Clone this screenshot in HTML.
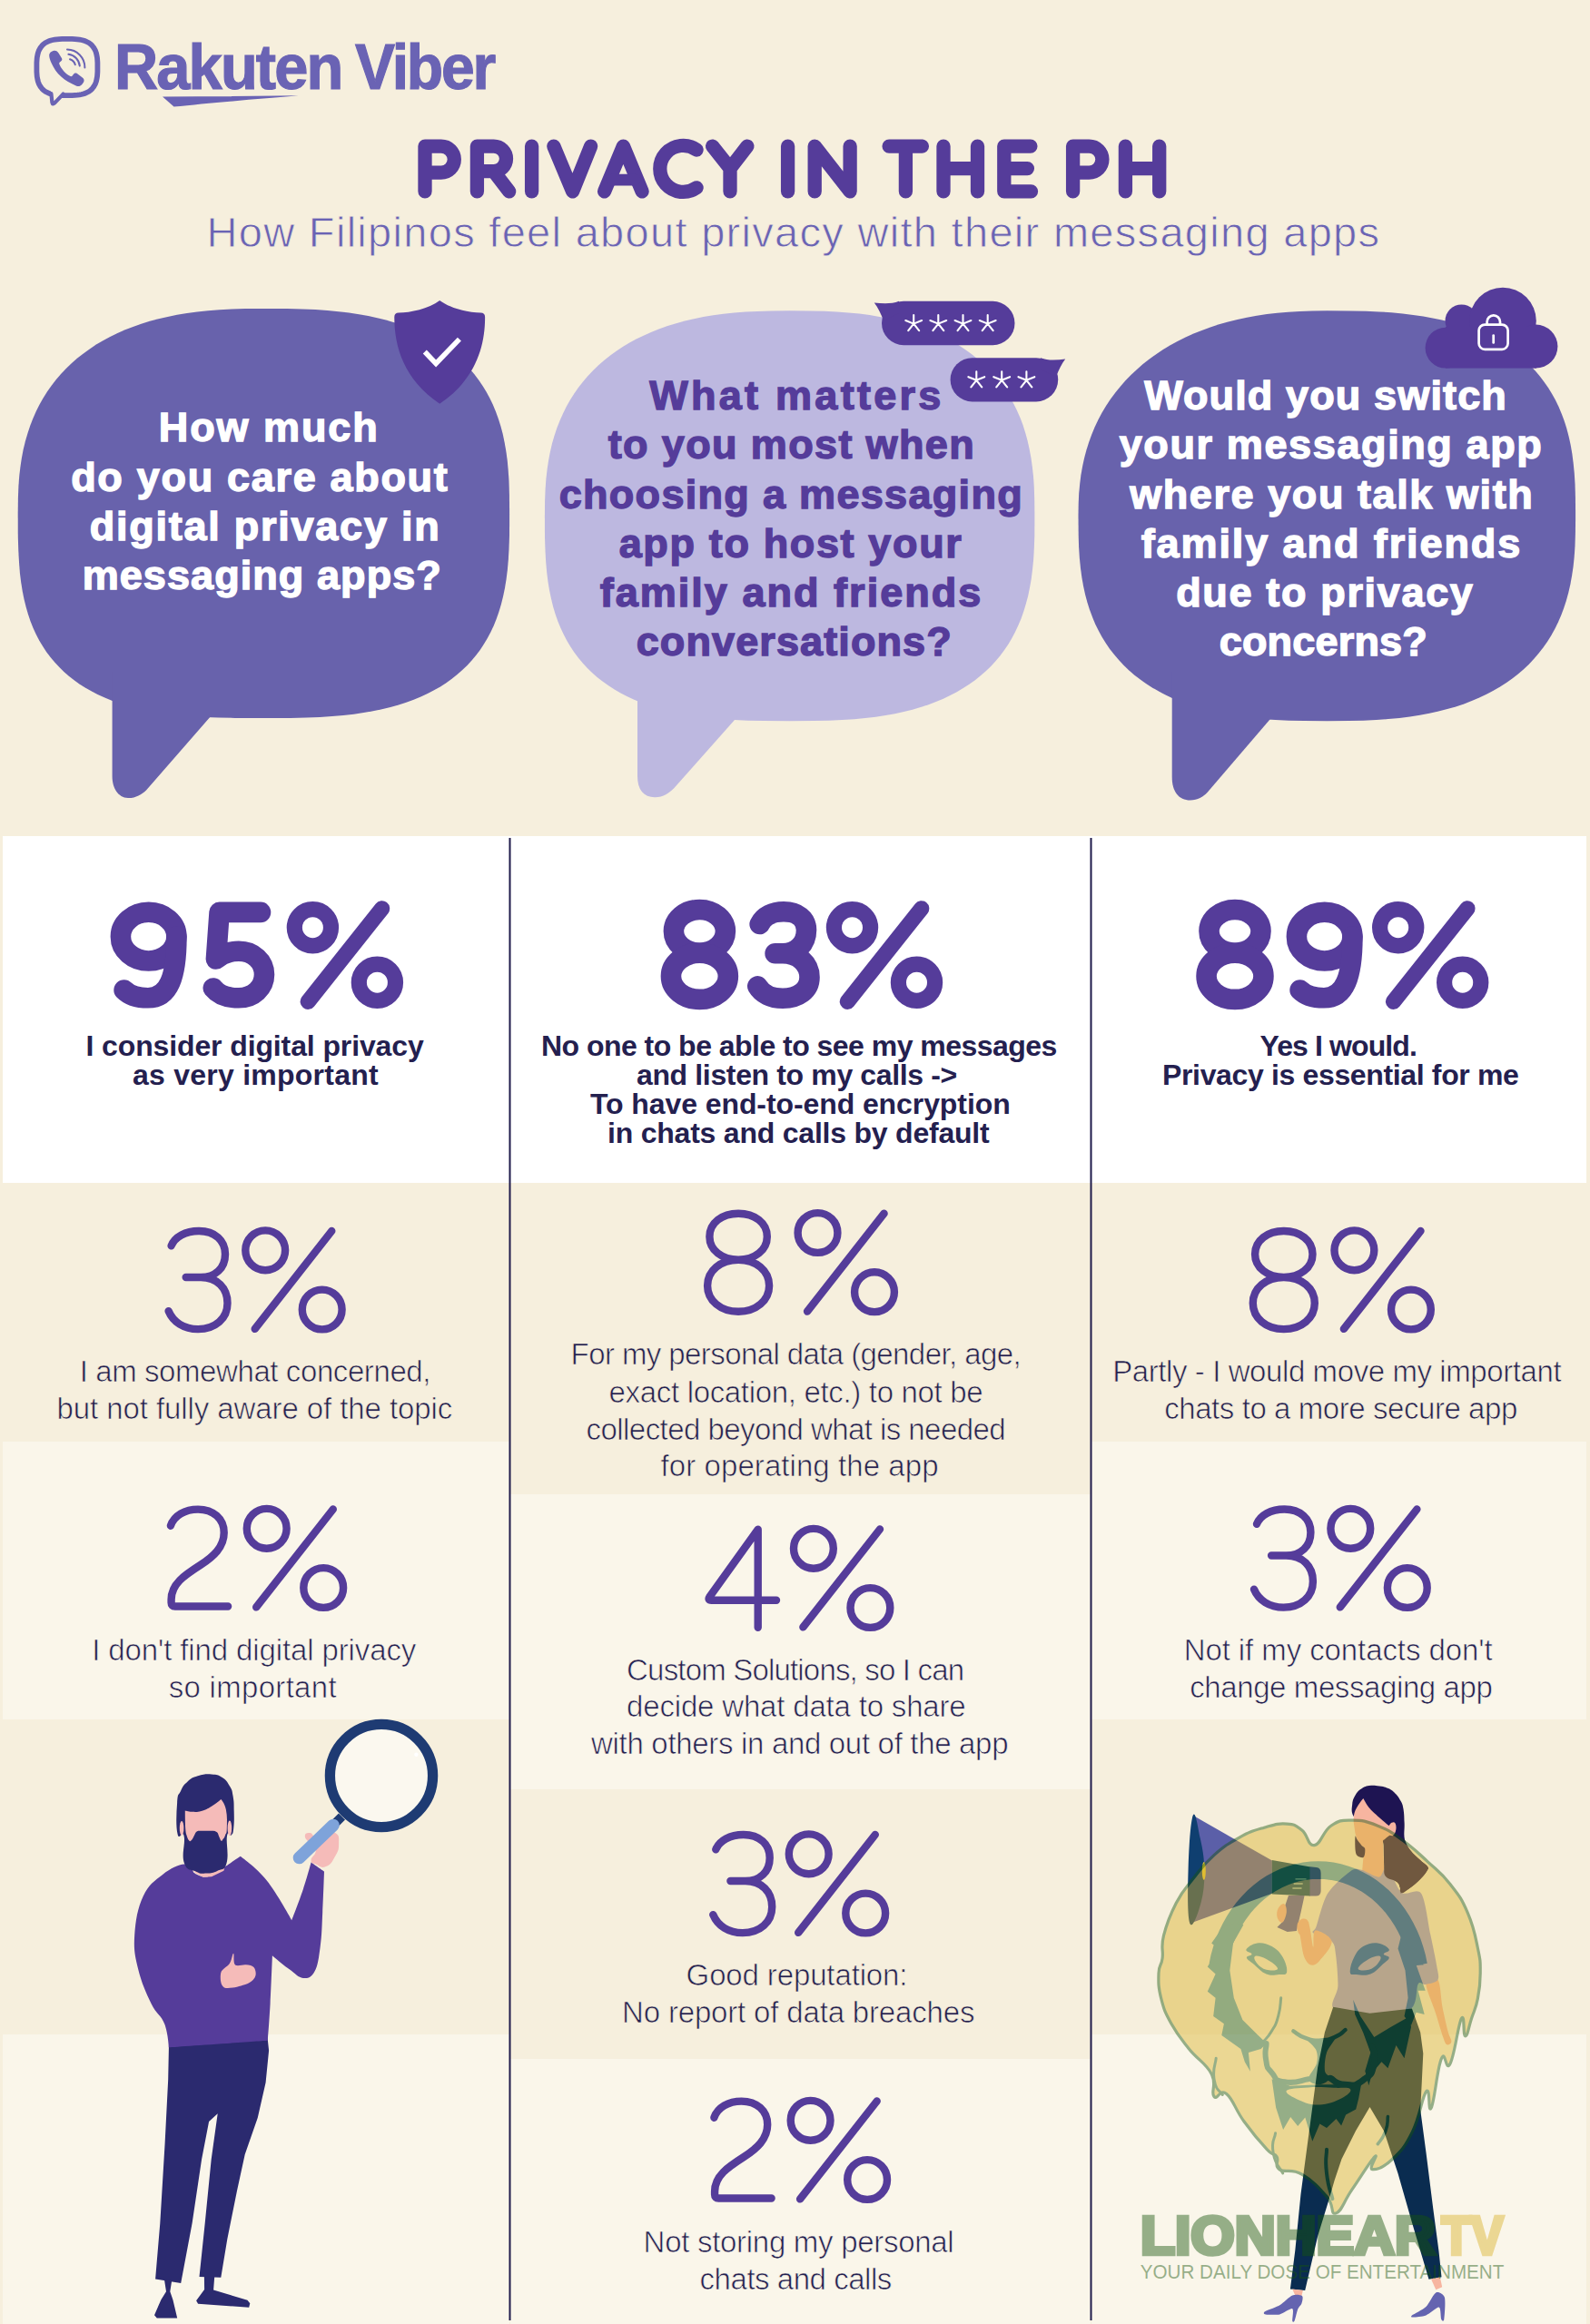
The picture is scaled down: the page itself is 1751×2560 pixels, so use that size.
<!DOCTYPE html>
<html lang="en"><head><meta charset="utf-8"><title>Privacy in the PH</title>
<style>
html,body{margin:0;padding:0}
body{width:1751px;height:2560px;position:relative;overflow:hidden;background:#f6efdd;font-family:"Liberation Sans",sans-serif}
svg.bg{position:absolute;left:0;top:0}
.t{position:absolute;white-space:nowrap;margin:0}
</style></head><body>
<svg class="bg" width="1751" height="2560" viewBox="0 0 1751 2560">
<rect x="3" y="921" width="1744" height="382" fill="#ffffff"/>
<rect x="3" y="1588" width="558" height="306" fill="#faf6ea"/>
<rect x="3" y="2241" width="558" height="319" fill="#faf6ea"/>
<rect x="562" y="1646" width="639" height="325" fill="#faf6ea"/>
<rect x="562" y="2268" width="639" height="292" fill="#faf6ea"/>
<rect x="1202" y="1588" width="545" height="306" fill="#faf6ea"/>
<rect x="1202" y="2241" width="545" height="319" fill="#faf6ea"/>
<rect x="560.5" y="923" width="2" height="1633" fill="#1f1b4b"/>
<rect x="1200.5" y="923" width="2" height="1633" fill="#1f1b4b"/>
<path d="M561.1,565.5 L561.0,589.7 L560.5,604.5 L559.8,617.0 L558.8,628.2 L557.5,638.6 L555.9,648.2 L554.0,657.2 L551.9,665.8 L549.4,674.0 L546.7,681.8 L543.7,689.2 L540.4,696.3 L536.8,703.1 L532.9,709.6 L528.7,715.9 L524.3,721.8 L519.5,727.5 L514.5,732.9 L509.2,738.1 L503.5,743.1 L497.6,747.7 L491.4,752.2 L484.9,756.4 L478.0,760.3 L470.9,764.0 L463.4,767.5 L455.6,770.8 L447.4,773.7 L438.9,776.5 L430.0,779.0 L420.6,781.3 L410.8,783.3 L400.5,785.1 L389.7,786.7 L378.1,788.0 L365.7,789.1 L352.2,789.9 L337.2,790.5 L319.4,790.9 L290.4,791.0 L259.1,790.9 L240.8,790.5 L225.4,790.0 L211.8,789.1 L199.3,788.1 L187.8,786.8 L176.9,785.3 L166.7,783.6 L157.0,781.6 L147.7,779.4 L138.9,777.0 L130.5,774.3 L122.5,771.4 L114.8,768.3 L107.5,764.9 L100.5,761.3 L93.8,757.4 L87.4,753.4 L81.3,749.0 L75.5,744.5 L70.1,739.7 L64.9,734.6 L60.0,729.3 L55.4,723.7 L51.0,717.9 L47.0,711.8 L43.2,705.4 L39.7,698.7 L36.5,691.7 L33.6,684.4 L31.0,676.7 L28.6,668.6 L26.5,660.0 L24.7,651.0 L23.2,641.4 L21.9,631.0 L21.0,619.6 L20.3,606.8 L19.8,591.5 L19.7,565.5 L19.9,548.6 L20.4,536.1 L21.2,524.8 L22.4,514.4 L23.9,504.5 L25.7,495.1 L27.9,486.1 L30.4,477.4 L33.2,469.0 L36.3,460.9 L39.8,453.1 L43.6,445.6 L47.7,438.3 L52.1,431.3 L56.9,424.6 L61.9,418.1 L67.3,411.8 L73.0,405.8 L79.0,400.1 L85.2,394.6 L91.8,389.4 L98.7,384.4 L105.9,379.6 L113.4,375.2 L121.2,371.0 L129.4,367.0 L137.8,363.3 L146.5,359.9 L155.5,356.7 L164.9,353.8 L174.6,351.2 L184.6,348.9 L195.0,346.8 L205.9,345.0 L217.2,343.5 L229.0,342.2 L241.6,341.3 L255.1,340.6 L270.1,340.1 L290.4,340.0 L316.1,340.1 L332.9,340.5 L347.4,341.1 L360.6,342.0 L372.9,343.2 L384.4,344.5 L395.3,346.2 L405.6,348.1 L415.5,350.2 L425.0,352.6 L434.1,355.3 L442.8,358.2 L451.2,361.3 L459.2,364.7 L466.9,368.3 L474.3,372.2 L481.4,376.3 L488.2,380.7 L494.6,385.4 L500.8,390.2 L506.6,395.4 L512.2,400.8 L517.5,406.4 L522.4,412.3 L527.1,418.4 L531.5,424.9 L535.5,431.5 L539.3,438.5 L542.8,445.8 L546.0,453.4 L548.8,461.3 L551.4,469.5 L553.7,478.1 L555.6,487.2 L557.3,496.8 L558.7,507.0 L559.7,518.0 L560.5,530.1 L560.9,544.1Z" fill="#6862ac"/>
<path d="M123.6 740 L123.6 855 C123.6 868 130 878.6 141 879 C149 879.3 156 875 161 870.4 L232.5 788.5 L232.5 740Z" fill="#6862ac"/>
<path d="M1139.4,568.2 L1139.3,590.3 L1138.8,604.5 L1138.1,616.7 L1137.0,627.7 L1135.7,638.0 L1134.0,647.6 L1132.1,656.7 L1129.8,665.3 L1127.3,673.6 L1124.5,681.5 L1121.3,689.0 L1117.9,696.3 L1114.2,703.2 L1110.2,709.9 L1105.9,716.3 L1101.3,722.4 L1096.4,728.3 L1091.2,733.9 L1085.7,739.2 L1079.9,744.3 L1073.8,749.2 L1067.4,753.8 L1060.7,758.1 L1053.7,762.2 L1046.4,766.1 L1038.8,769.7 L1030.8,773.1 L1022.5,776.2 L1013.8,779.1 L1004.8,781.7 L995.4,784.1 L985.5,786.2 L975.2,788.1 L964.4,789.7 L952.9,791.1 L940.7,792.2 L927.5,793.1 L912.9,793.7 L895.9,794.1 L869.7,794.2 L841.2,794.1 L823.6,793.7 L808.7,793.1 L795.3,792.3 L782.9,791.2 L771.4,789.8 L760.6,788.3 L750.3,786.5 L740.5,784.4 L731.2,782.1 L722.3,779.6 L713.8,776.8 L705.6,773.8 L697.8,770.5 L690.3,767.0 L683.1,763.3 L676.3,759.3 L669.8,755.1 L663.5,750.6 L657.6,745.9 L652.0,740.9 L646.6,735.7 L641.6,730.2 L636.8,724.5 L632.3,718.5 L628.2,712.2 L624.3,705.7 L620.7,698.8 L617.4,691.7 L614.3,684.2 L611.6,676.4 L609.1,668.2 L607.0,659.6 L605.1,650.5 L603.5,640.9 L602.2,630.6 L601.2,619.3 L600.5,606.8 L600.0,592.1 L599.9,568.3 L600.1,551.3 L600.6,538.8 L601.4,527.5 L602.6,517.0 L604.1,507.1 L605.9,497.7 L608.0,488.6 L610.5,479.9 L613.3,471.6 L616.5,463.5 L619.9,455.7 L623.7,448.1 L627.8,440.8 L632.2,433.8 L636.9,427.1 L642.0,420.5 L647.3,414.3 L653.0,408.3 L658.9,402.5 L665.2,397.0 L671.8,391.8 L678.7,386.8 L685.8,382.0 L693.3,377.5 L701.1,373.3 L709.2,369.4 L717.5,365.7 L726.2,362.2 L735.2,359.1 L744.6,356.2 L754.2,353.5 L764.2,351.2 L774.6,349.1 L785.4,347.3 L796.7,345.8 L808.5,344.5 L821.0,343.6 L834.4,342.9 L849.4,342.4 L869.6,342.3 L892.0,342.4 L907.7,342.8 L921.6,343.5 L934.4,344.4 L946.4,345.6 L957.7,347.1 L968.6,348.9 L979.0,350.9 L988.9,353.1 L998.5,355.7 L1007.7,358.4 L1016.6,361.5 L1025.1,364.8 L1033.4,368.4 L1041.3,372.2 L1048.9,376.3 L1056.2,380.6 L1063.2,385.2 L1069.9,390.1 L1076.3,395.2 L1082.4,400.5 L1088.2,406.1 L1093.6,412.0 L1098.8,418.1 L1103.7,424.5 L1108.3,431.1 L1112.5,438.0 L1116.5,445.2 L1120.1,452.6 L1123.5,460.3 L1126.5,468.3 L1129.2,476.7 L1131.6,485.4 L1133.6,494.5 L1135.4,504.0 L1136.8,514.0 L1138.0,524.7 L1138.8,536.4 L1139.2,549.5Z" fill="#bdb8e0"/>
<path d="M702 740 L702 855 C702 870 709 878 721 878.3 C730 878.5 737 873.5 742 868.5 L813 788.5 L813 740Z" fill="#bdb8e0"/>
<path d="M1735.1,568.2 L1734.9,587.9 L1734.5,601.3 L1733.7,613.2 L1732.6,624.0 L1731.1,634.1 L1729.4,643.6 L1727.3,652.7 L1724.9,661.4 L1722.2,669.7 L1719.2,677.7 L1715.9,685.4 L1712.3,692.8 L1708.3,699.9 L1704.1,706.7 L1699.5,713.2 L1694.6,719.5 L1689.5,725.6 L1684.0,731.4 L1678.2,736.9 L1672.1,742.2 L1665.7,747.2 L1659.0,752.0 L1652.0,756.5 L1644.6,760.8 L1637.0,764.8 L1629.1,768.6 L1620.8,772.1 L1612.2,775.4 L1603.2,778.4 L1593.9,781.1 L1584.2,783.6 L1574.2,785.8 L1563.6,787.8 L1552.6,789.5 L1541.1,790.9 L1528.8,792.1 L1515.7,793.0 L1501.4,793.7 L1485.1,794.1 L1461.3,794.2 L1436.0,794.1 L1419.2,793.7 L1404.6,793.0 L1391.3,792.2 L1379.0,791.0 L1367.4,789.6 L1356.3,787.9 L1345.8,786.0 L1335.8,783.8 L1326.2,781.4 L1317.0,778.7 L1308.1,775.8 L1299.6,772.6 L1291.4,769.2 L1283.6,765.5 L1276.1,761.6 L1268.9,757.4 L1262.0,753.0 L1255.4,748.3 L1249.1,743.4 L1243.1,738.2 L1237.4,732.8 L1232.1,727.1 L1227.0,721.1 L1222.2,714.9 L1217.8,708.4 L1213.6,701.7 L1209.8,694.7 L1206.2,687.4 L1203.0,679.8 L1200.0,671.8 L1197.4,663.5 L1195.1,654.9 L1193.1,645.8 L1191.4,636.2 L1190.0,626.0 L1188.9,615.1 L1188.1,603.0 L1187.7,589.2 L1187.5,568.3 L1187.7,554.7 L1188.2,543.5 L1189.2,533.1 L1190.4,523.2 L1192.1,513.7 L1194.1,504.5 L1196.5,495.5 L1199.2,486.9 L1202.3,478.4 L1205.7,470.2 L1209.5,462.3 L1213.6,454.5 L1218.1,447.0 L1222.9,439.8 L1228.1,432.7 L1233.6,425.9 L1239.4,419.3 L1245.5,413.0 L1252.0,406.9 L1258.7,401.1 L1265.8,395.5 L1273.2,390.2 L1280.9,385.1 L1288.8,380.3 L1297.1,375.8 L1305.6,371.5 L1314.4,367.6 L1323.5,363.9 L1332.9,360.5 L1342.5,357.3 L1352.5,354.5 L1362.7,351.9 L1373.2,349.7 L1384.0,347.7 L1395.2,346.1 L1406.7,344.7 L1418.8,343.7 L1431.4,342.9 L1444.9,342.5 L1461.3,342.3 L1487.3,342.4 L1504.3,342.8 L1519.0,343.4 L1532.3,344.3 L1544.7,345.5 L1556.3,346.9 L1567.4,348.5 L1577.8,350.4 L1587.9,352.5 L1597.5,354.9 L1606.7,357.6 L1615.5,360.5 L1623.9,363.6 L1632.1,367.0 L1639.9,370.7 L1647.3,374.6 L1654.5,378.7 L1661.3,383.1 L1667.9,387.8 L1674.1,392.6 L1680.0,397.8 L1685.6,403.2 L1691.0,408.8 L1696.0,414.7 L1700.7,420.9 L1705.1,427.3 L1709.2,434.0 L1713.1,441.0 L1716.6,448.3 L1719.8,455.9 L1722.7,463.8 L1725.3,472.1 L1727.6,480.7 L1729.6,489.8 L1731.3,499.4 L1732.6,509.6 L1733.7,520.6 L1734.5,532.8 L1734.9,546.8Z" fill="#6862ac"/>
<path d="M1290.7 740 L1290.7 856 C1290.7 872 1298 881.5 1310.7 881.5 C1319 881.5 1325 877.5 1329.5 873 L1401.5 789 L1401.5 740Z" fill="#6862ac"/>
<g fill="none" stroke="#553c9a" stroke-width="8.4" stroke-linecap="round" stroke-linejoin="round"><path transform="translate(181.1 1351.9)" d="M7.5 20.4 C11.5 10.5 23 4.1 38 4.1 C55.5 4.1 66.9 14.5 66.9 29.5 C66.9 45 56 55.1 40 55.1 L23.6 55.1 M40 55.1 C58 55.1 69.4 67 69.4 83.5 C69.4 100.5 56 112.2 37 112.2 C21.5 112.2 9.5 104.5 4.5 92.3"/><g transform="translate(266.4 1351.9)"><circle cx="25.8" cy="25.4" r="21.9"/><circle cx="88.3" cy="90.6" r="21.9"/><path d="M98.9 4.1 L14.3 112"/></g></g>
<g fill="none" stroke="#553c9a" stroke-width="8.4" stroke-linecap="round" stroke-linejoin="round"><path transform="translate(183.8 1658.4)" d="M4.1 22.3 C8 11 20 4.2 34.3 4.2 C51 4.2 62.9 14.5 62.9 29.9 C62.9 46 51 56.5 37 65.5 C19 77 4.8 86.5 4.8 103.5 L4.8 107 Q4.8 111.1 9 111.1 L67.3 111.1"/><g transform="translate(267.9 1658.4)"><circle cx="25.8" cy="25.4" r="21.9"/><circle cx="88.3" cy="90.6" r="21.9"/><path d="M98.9 4.1 L14.3 112"/></g></g>
<g fill="none" stroke="#553c9a" stroke-width="8.4" stroke-linecap="round" stroke-linejoin="round"><path transform="translate(775.1 1332.6)" d="M38 4.1 C56 4.1 69.7 14.5 69.7 29.6 C69.7 44.5 56 55.1 38 55.1 C20 55.1 6.3 44.5 6.3 29.6 C6.3 14.5 20 4.1 38 4.1 Z M38 55.1 C57.5 55.1 72 67 72 83.6 C72 100 57.5 112.2 38 112.2 C18.5 112.2 4 100 4 83.6 C4 67 18.5 55.1 38 55.1 Z"/><g transform="translate(874.7 1332.6)"><circle cx="25.8" cy="25.4" r="21.9"/><circle cx="88.3" cy="90.6" r="21.9"/><path d="M98.9 4.1 L14.3 112"/></g></g>
<g fill="none" stroke="#553c9a" stroke-width="8.4" stroke-linecap="round" stroke-linejoin="round"><path transform="translate(775.8 1680.4)" d="M58.9 112.3 L58.9 4.3 L5.6 78.6 Q3.2 82.3 7.8 82.3 L79.2 82.3"/><g transform="translate(870.1 1680.4)"><circle cx="25.8" cy="25.4" r="21.9"/><circle cx="88.3" cy="90.6" r="21.9"/><path d="M98.9 4.1 L14.3 112"/></g></g>
<g fill="none" stroke="#553c9a" stroke-width="8.4" stroke-linecap="round" stroke-linejoin="round"><path transform="translate(780.8 2016.9)" d="M7.5 20.4 C11.5 10.5 23 4.1 38 4.1 C55.5 4.1 66.9 14.5 66.9 29.5 C66.9 45 56 55.1 40 55.1 L23.6 55.1 M40 55.1 C58 55.1 69.4 67 69.4 83.5 C69.4 100.5 56 112.2 37 112.2 C21.5 112.2 9.5 104.5 4.5 92.3"/><g transform="translate(864.9 2016.9)"><circle cx="25.8" cy="25.4" r="21.9"/><circle cx="88.3" cy="90.6" r="21.9"/><path d="M98.9 4.1 L14.3 112"/></g></g>
<g fill="none" stroke="#553c9a" stroke-width="8.4" stroke-linecap="round" stroke-linejoin="round"><path transform="translate(782.3 2310.4)" d="M4.1 22.3 C8 11 20 4.2 34.3 4.2 C51 4.2 62.9 14.5 62.9 29.9 C62.9 46 51 56.5 37 65.5 C19 77 4.8 86.5 4.8 103.5 L4.8 107 Q4.8 111.1 9 111.1 L67.3 111.1"/><g transform="translate(866.8 2310.4)"><circle cx="25.8" cy="25.4" r="21.9"/><circle cx="88.3" cy="90.6" r="21.9"/><path d="M98.9 4.1 L14.3 112"/></g></g>
<g fill="none" stroke="#553c9a" stroke-width="8.4" stroke-linecap="round" stroke-linejoin="round"><path transform="translate(1375.8 1351.9)" d="M38 4.1 C56 4.1 69.7 14.5 69.7 29.6 C69.7 44.5 56 55.1 38 55.1 C20 55.1 6.3 44.5 6.3 29.6 C6.3 14.5 20 4.1 38 4.1 Z M38 55.1 C57.5 55.1 72 67 72 83.6 C72 100 57.5 112.2 38 112.2 C18.5 112.2 4 100 4 83.6 C4 67 18.5 55.1 38 55.1 Z"/><g transform="translate(1465.6 1351.9)"><circle cx="25.8" cy="25.4" r="21.9"/><circle cx="88.3" cy="90.6" r="21.9"/><path d="M98.9 4.1 L14.3 112"/></g></g>
<g fill="none" stroke="#553c9a" stroke-width="8.4" stroke-linecap="round" stroke-linejoin="round"><path transform="translate(1376.5 1658.4)" d="M7.5 20.4 C11.5 10.5 23 4.1 38 4.1 C55.5 4.1 66.9 14.5 66.9 29.5 C66.9 45 56 55.1 40 55.1 L23.6 55.1 M40 55.1 C58 55.1 69.4 67 69.4 83.5 C69.4 100.5 56 112.2 37 112.2 C21.5 112.2 9.5 104.5 4.5 92.3"/><g transform="translate(1461.5 1658.4)"><circle cx="25.8" cy="25.4" r="21.9"/><circle cx="88.3" cy="90.6" r="21.9"/><path d="M98.9 4.1 L14.3 112"/></g></g>
<g fill="none" stroke="#6a63b4" stroke-width="5.8" stroke-linejoin="round" stroke-linecap="round"><path d="M107.4,74.0 L107.4,79.0 L107.2,82.0 L107.0,84.5 L106.6,86.6 L106.2,88.6 L105.7,90.4 L105.1,92.1 L104.3,93.6 L103.5,95.0 L102.6,96.3 L101.6,97.6 L100.5,98.7 L99.3,99.7 L98.0,100.7 L96.5,101.5 L95.0,102.3 L93.3,102.9 L91.6,103.5 L89.6,104.0 L87.5,104.4 L85.2,104.7 L82.5,104.9 L79.3,105.1 L73.9,105.1 L68.5,105.1 L65.3,104.9 L62.6,104.7 L60.3,104.4 L58.2,104.0 L56.2,103.5 L54.5,102.9 L52.8,102.3 L51.3,101.5 L49.8,100.7 L48.5,99.7 L47.3,98.7 L46.2,97.6 L45.2,96.3 L44.3,95.0 L43.5,93.6 L42.7,92.1 L42.1,90.4 L41.6,88.6 L41.2,86.6 L40.8,84.5 L40.6,82.0 L40.4,79.0 L40.4,74.0 L40.4,69.0 L40.6,66.0 L40.8,63.5 L41.2,61.4 L41.6,59.4 L42.1,57.6 L42.7,55.9 L43.5,54.4 L44.3,53.0 L45.2,51.7 L46.2,50.4 L47.3,49.3 L48.5,48.3 L49.8,47.3 L51.3,46.5 L52.8,45.7 L54.5,45.1 L56.2,44.5 L58.2,44.0 L60.3,43.6 L62.6,43.3 L65.3,43.1 L68.5,42.9 L73.9,42.9 L79.3,42.9 L82.5,43.1 L85.2,43.3 L87.5,43.6 L89.6,44.0 L91.6,44.5 L93.3,45.1 L95.0,45.7 L96.5,46.5 L98.0,47.3 L99.3,48.3 L100.5,49.3 L101.6,50.4 L102.6,51.7 L103.5,53.0 L104.3,54.4 L105.1,55.9 L105.7,57.6 L106.2,59.4 L106.6,61.4 L107.0,63.5 L107.2,66.0 L107.4,69.0Z"/></g>
<path d="M56.6 100 L57.6 113.6 L68.5 102.5Z" fill="#f6efdd" stroke="#f6efdd" stroke-width="1"/>
<path d="M56.4 103.2 L57.4 113 Q58 115.6 60 113.6 L69.5 103.6" fill="none" stroke="#6a63b4" stroke-width="4.2" stroke-linejoin="round" stroke-linecap="round"/>
<path d="M59.6 55.8 C62 55.6 63.5 56.8 64.5 58.5 L67.9 64 C68.8 65.6 68.3 66.6 67.1 67.6 C65.6 68.8 64.9 69.4 65.3 70.6 C66.5 73.8 68.2 76.2 70.3 78.4 C72.5 80.8 75 82.8 77.6 84 C78.8 84.5 79.6 83.6 80.6 82.2 C81.6 80.6 82.8 80 84.6 80.7 L90.8 85.6 C92.6 87 93 88.6 92.2 90.2 C91.2 92 90 93.6 88.4 94.4 C86.8 95.2 85.4 95 83.8 94.4 C77.4 92 72 88.6 67.4 84.6 C62.6 80.2 59 75 56.4 69 C55 65.8 54.2 63.2 54.2 61 C54.2 58.6 56.6 56.2 59.6 55.8Z" fill="#6a63b4"/>
<g fill="none" stroke="#6a63b4" stroke-width="2" stroke-linecap="round"><path d="M74 54.6 A19.6 19.6 0 0 1 93.4 74.4"/><path d="M75.4 59.8 A14.4 14.4 0 0 1 87.8 72.6"/><path d="M77 65.2 A9 9 0 0 1 82.8 71.2"/></g>
<path d="M179 106.6 L328.5 105.3 C290 108.5 230 113.5 191.5 117.6Z" fill="#6a63b4"/>
<path d="M484.2 331 C472 340 452 344.5 439 344.5 Q434.4 344.5 434.3 349 C434 380 444 418 484.2 444.7 C524.5 418 534.4 380 534.1 349 Q534 344.5 529.4 344.5 C516.5 344.5 496.5 340 484.2 331Z" fill="#553c9a"/>
<path d="M467.8 387.5 L480.1 400.5 L505.9 373.6" fill="none" stroke="#fff" stroke-width="5.6"/>
<rect x="971" y="331.8" width="146.5" height="48.4" rx="24.2" fill="#553c9a"/>
<path d="M990 331.8 C982 335 972 334.5 962.8 333.4 C967 339 970 345 973 353 L990 345Z" fill="#553c9a"/>
<rect x="1046.6" y="394.2" width="118.6" height="48.2" rx="24.1" fill="#553c9a"/>
<path d="M1146 394.2 C1154 397.5 1164 396.8 1173.2 395.4 C1169 401 1166 407 1163 415 L1146 407Z" fill="#553c9a"/>
<path d="M1006.2 356.6 L1006.2 347.0 M1006.2 356.6 L1015.1 353.0 M1006.2 356.6 L997.3 353.0 M1006.2 356.6 L1000.3 364.2 M1006.2 356.6 L1012.1 364.2 M1033.3 356.6 L1033.3 347.0 M1033.3 356.6 L1042.2 353.0 M1033.3 356.6 L1024.4 353.0 M1033.3 356.6 L1027.4 364.2 M1033.3 356.6 L1039.2 364.2 M1060.5 356.6 L1060.5 347.0 M1060.5 356.6 L1069.4 353.0 M1060.5 356.6 L1051.6 353.0 M1060.5 356.6 L1054.6 364.2 M1060.5 356.6 L1066.4 364.2 M1087.7 356.6 L1087.7 347.0 M1087.7 356.6 L1096.6 353.0 M1087.7 356.6 L1078.8 353.0 M1087.7 356.6 L1081.8 364.2 M1087.7 356.6 L1093.6 364.2 M1075.3 418.8 L1075.3 409.2 M1075.3 418.8 L1084.2 415.2 M1075.3 418.8 L1066.4 415.2 M1075.3 418.8 L1069.4 426.4 M1075.3 418.8 L1081.2 426.4 M1103.2 418.8 L1103.2 409.2 M1103.2 418.8 L1112.1 415.2 M1103.2 418.8 L1094.3 415.2 M1103.2 418.8 L1097.3 426.4 M1103.2 418.8 L1109.1 426.4 M1130.4 418.8 L1130.4 409.2 M1130.4 418.8 L1139.3 415.2 M1130.4 418.8 L1121.5 415.2 M1130.4 418.8 L1124.5 426.4 M1130.4 418.8 L1136.3 426.4" fill="none" stroke="#fff" stroke-width="2.1" stroke-linecap="round"/>
<g fill="#553c9a"><circle cx="1592" cy="383.2" r="22.4"/><circle cx="1609.5" cy="353.5" r="18"/><circle cx="1655" cy="353.6" r="36.8"/><circle cx="1691.4" cy="381.6" r="24"/><rect x="1592" y="360" width="100" height="45.6"/></g>
<g fill="none" stroke="#fff" stroke-width="2.7" stroke-linecap="round"><rect x="1628.6" y="357.6" width="32" height="27.2" rx="6.5"/><path d="M1637.6 357.6 L1637.6 354.6 A7.2 7.2 0 0 1 1652 354.6 L1652 357.6"/><path d="M1644.7 369.6 L1644.7 377.4"/></g>
<g fill="none" stroke="#553c9a" stroke-width="22.6" stroke-linecap="round" stroke-linejoin="round"><ellipse cx="163.65" cy="1031.65" rx="30.75" ry="26.85"/><path d="M194.4 1031.65 C194.4 1076 186 1099.3 163 1099.3 C151 1099.3 142 1096 136.6 1090.5"/><path d="M287 1004.9 L241.6 1004.9 L237.9 1056.5 C244 1051 252 1047.8 262.9 1047.8 C279 1047.8 291 1059 291 1073.5 C291 1088 279 1099.3 262.9 1099.3 C250 1099.3 240 1095 234.8 1088.5"/><g stroke-width="17.2"><circle cx="344.4" cy="1021.7" r="20.1"/><circle cx="415.4" cy="1082.2" r="20.1"/><path d="M420.6 1000.8 L339.2 1103.3"/></g><ellipse cx="770.4" cy="1025.85" rx="28.5" ry="23.85"/><ellipse cx="770.4" cy="1075.3" rx="31.45" ry="25.6"/><path d="M836.7 1018 C841 1009 851 1004.3 863 1004.3 C878 1004.3 888 1012 888 1024.5 C888 1040 877 1050.3 862 1050.3 L853.6 1050.3 M862 1050.3 C879 1050.3 891.5 1061.5 891.5 1076.5 C891.5 1091 879 1099.8 862 1099.8 C849 1099.8 839 1094.5 834.3 1086.4"/><g stroke-width="17.2"><circle cx="938.5" cy="1021.7" r="20.1"/><circle cx="1009.5" cy="1082.2" r="20.1"/><path d="M1014.7 1000.8 L933.3 1103.3"/></g><g transform="translate(589.6 0)"><ellipse cx="770.4" cy="1025.85" rx="28.5" ry="23.85"/><ellipse cx="770.4" cy="1075.3" rx="31.45" ry="25.6"/></g><g transform="translate(1295 0)"><ellipse cx="163.65" cy="1031.65" rx="30.75" ry="26.85"/><path d="M194.4 1031.65 C194.4 1076 186 1099.3 163 1099.3 C151 1099.3 142 1096 136.6 1090.5"/></g><g stroke-width="17.2"><circle cx="1539.7" cy="1021.7" r="20.1"/><circle cx="1610.7" cy="1082.2" r="20.1"/><path d="M1615.9 1000.8 L1534.5 1103.3"/></g></g>
<g fill="none" stroke="#553c9a" stroke-width="15.3" stroke-linecap="round" stroke-linejoin="round"><path d="M468 210.85 L468 161.05 L485.8 161.05 A14.5 14.5 0 0 1 485.8 190.05 L468 190.05"/><path d="M525.4 210.85 L525.4 161.05 L543.7 161.05 A13.8 13.8 0 0 1 543.7 188.65 L525.4 188.65 M543.6 188.65 L560.7 210.85"/><path d="M585.6 161.05 L585.6 210.85"/><path d="M609.8 161.05 L630.6 210.85 L650.6 161.05"/><path d="M665.6 210.85 L686.4 161.05 L707.1 210.85"/><path d="M767.05 165 A25.55 25.55 0 1 0 767.05 206.8"/><path d="M784.6 161.05 L804 185.6 L822.9 161.05 M804 185.6 L804 210.85"/><path d="M867.6 161.05 L867.6 210.85"/><path d="M897.2 210.85 L897.2 161.05 L936.1 210.85 L936.1 161.05"/><path d="M979.1 161.05 L1015.4 161.05 M997.4 161.05 L997.4 210.85"/><path d="M1039 161.05 L1039 210.85 M1076.5 161.05 L1076.5 210.85 M1039 185.6 L1076.5 185.6"/><path d="M1134.9 161.05 L1105.8 161.05 L1105.8 210.85 L1135.5 210.85 M1105.8 185.6 L1131.4 185.6"/><path d="M1181.6 210.85 L1181.6 161.05 L1199.4 161.05 A14.5 14.5 0 0 1 1199.4 190.05 L1181.6 190.05"/><path d="M1239.4 161.05 L1239.4 210.85 M1276.7 161.05 L1276.7 210.85 M1239.4 185.6 L1276.7 185.6"/><path d="M674 198.1 L699 198.1" stroke-width="12.6"/></g>
<circle cx="420" cy="1956" r="56.6" fill="#fbf8ef" stroke="#1e3b73" stroke-width="11.3"/>
<circle cx="458.4" cy="1932.8" r="2.2" fill="#ffffff"/>
<path d="M335.8 2022.4 C335.8 2019.2 338.2 2018.7 341.4 2019.1 C344.5 2019.5 344.3 2023.4 347.7 2023.9 C351.0 2024.4 348.3 2022.2 354.0 2020.9 C359.7 2019.5 364.0 2016.2 369.1 2018.9 C374.2 2021.6 373.1 2024.0 373.1 2030.9 C373.1 2037.9 372.8 2038.1 369.1 2044.8 C365.3 2051.5 364.7 2053.8 359.0 2056.1 C353.3 2058.4 352.0 2055.5 347.7 2053.6 C343.3 2051.7 342.6 2053.1 342.6 2049.1 C342.6 2045.0 348.0 2043.3 347.7 2038.5 C347.3 2033.7 344.5 2035.2 341.4 2030.9 C338.2 2026.6 335.8 2025.5 335.8 2022.4Z" fill="#f5bbb9" />
<path d="M376.5 2001 L364 2013.5" stroke="#1e3b73" stroke-width="10" stroke-linecap="butt" fill="none"/>
<path d="M367 2010.5 L329.5 2046.5" stroke="#7ea3da" stroke-width="13.6" stroke-linecap="round" fill="none"/>
<path d="M186.0 2251.7 L294.3 2242.0 L296.1 2258.7 L292.6 2294.0 L283.8 2332.7 L269.7 2373.2 L260.9 2413.7 L250.3 2466.5 L243.3 2508.8 L219.5 2507.9 L225.7 2448.9 L232.7 2378.5 L239.7 2328.3 L230.1 2337.1 L222.1 2378.5 L211.6 2448.9 L199.2 2514.9 L171.1 2510.5 L176.3 2448.9 L181.6 2360.9 L185.2 2290.4Z" fill="#2b2a6f" />
<path d="M180.8 2510.0 L189.2 2512.3 L187.3 2524.2 L190.4 2533.2 L195.2 2553.6 L172.8 2553.4 L170.0 2550.2 L177.4 2533.2 L183.0 2524.2Z" fill="#2b2a6f" />
<path d="M224.9 2508.1 L236.2 2508.1 L235.1 2522.5 L272.5 2533.8 L275.3 2537.2 L274.2 2541.7 L218.1 2537.7 L216.1 2534.3 L225.1 2521.9Z" fill="#2b2a6f" />
<path d="M203.0 2053.6 C196.2 2054.1 188.2 2057.9 179.1 2064.9 C170.1 2071.9 163.9 2075.5 157.7 2088.8 C151.5 2102.1 149.3 2115.5 148.2 2131.6 C147.1 2147.7 148.5 2154.2 152.2 2169.3 C155.9 2184.4 160.8 2195.1 166.5 2207.0 C172.3 2219.0 177.3 2219.5 181.1 2229.2 C185.0 2238.8 185.9 2255.3 185.9 2255.3 C185.9 2255.3 294.8 2247.8 294.8 2247.8 C294.8 2247.8 296.6 2225.8 297.6 2207.0 C298.6 2188.3 299.9 2154.2 299.9 2154.2 C299.9 2154.2 311.9 2164.4 318.7 2169.3 C325.5 2174.2 328.3 2178.4 333.8 2178.9 C339.4 2179.4 342.6 2178.8 346.4 2171.8 C350.2 2164.9 350.9 2157.2 352.7 2144.2 C354.5 2131.1 354.4 2122.9 355.2 2106.4 C356.1 2089.9 357.0 2061.6 357.0 2061.6 C357.0 2061.6 342.6 2051.6 342.6 2051.6 C342.6 2051.6 338.1 2068.5 333.8 2081.3 C329.6 2094.0 321.3 2115.2 321.3 2115.2 C321.3 2115.2 304.9 2085.3 293.6 2071.2 C282.3 2057.1 264.7 2044.8 264.7 2044.8 C264.7 2044.8 248.3 2056.1 248.3 2056.1 C248.3 2056.1 235.2 2066.2 228.2 2067.4 C221.1 2068.7 213.1 2062.4 213.1 2062.4 C213.1 2062.4 209.8 2053.1 203.0 2053.6Z" fill="#553c9a" />
<path d="M210.4 2058.7 L216.0 2063.4 L223.6 2067.7 L233.0 2067.2 L246.4 2060.8 L247.4 2057.3 L234.9 2055.8 L216.0 2055.8Z" fill="#f5bbb9" />
<path d="M195.5 2020.0 C193.6 2010.9 194.2 1997.8 195.1 1986.0 C196.0 1974.2 196.2 1978.7 199.1 1972.8 C201.9 1966.9 201.9 1966.6 206.6 1962.5 C211.3 1958.3 211.3 1958.3 217.9 1956.3 C224.5 1954.3 226.4 1954.1 233.0 1954.4 C239.6 1954.8 239.4 1954.6 244.3 1957.7 C249.3 1960.9 249.8 1962.0 252.8 1967.2 C255.9 1972.4 255.4 1971.4 256.6 1978.5 C257.8 1985.6 257.6 1986.5 257.7 1995.5 C257.9 2004.4 257.9 2007.9 257.2 2014.3 C256.4 2020.8 256.5 2019.4 254.7 2021.4 C252.9 2023.4 251.3 2014.7 250.0 2022.4 C248.7 2030.0 252.2 2042.5 249.6 2052.1 C247.0 2061.7 245.2 2057.9 239.6 2060.8 C234.1 2063.6 233.3 2063.3 227.4 2063.6 C221.5 2063.8 222.2 2064.6 216.0 2061.7 C209.9 2058.8 206.2 2061.9 202.8 2052.1 C199.5 2042.2 204.5 2030.4 202.6 2022.4 C200.8 2014.3 197.4 2029.1 195.5 2020.0Z" fill="#2b2a6f" />
<ellipse cx="200.1" cy="2013.9" rx="2.3" ry="8" fill="#f5bbb9"/>
<ellipse cx="252.9" cy="2013.9" rx="2.3" ry="8.4" fill="#f5bbb9"/>
<path d="M203.8 1994.5 C203.8 1994.5 207.1 1995.6 211.3 1995.8 C215.5 1995.9 216.6 1996.4 221.7 1995.0 C226.8 1993.6 228.0 1992.8 233.0 1989.8 C238.1 1986.8 243.4 1982.1 243.4 1982.1 C243.4 1982.1 247.4 1986.1 248.9 1993.6 C250.4 2001.1 250.0 2007.8 249.8 2014.3 C249.6 2020.8 249.1 2018.7 248.1 2021.4 C247.1 2024.2 246.5 2024.7 245.5 2026.1 C244.4 2027.6 244.6 2028.4 243.6 2027.7 C242.6 2027.1 242.4 2025.4 241.3 2023.3 C240.3 2021.2 240.6 2020.1 239.2 2018.6 C237.7 2017.0 234.9 2016.7 234.9 2016.7 C234.9 2016.7 218.9 2016.7 218.9 2016.7 C218.9 2016.7 217.4 2016.5 216.0 2018.1 C214.7 2019.8 214.3 2021.6 213.0 2023.8 C211.7 2026.0 211.5 2026.7 210.4 2027.5 C209.3 2028.4 209.4 2028.8 208.3 2027.5 C207.2 2026.3 206.8 2025.4 205.8 2022.4 C204.9 2019.3 204.7 2020.8 204.2 2014.3 C203.8 2007.8 203.8 1994.5 203.8 1994.5Z" fill="#f5bbb9" />
<path d="M257.1 2151.7 C256.1 2151.5 255.1 2159.5 252.8 2163.0 C250.5 2166.6 244.2 2168.7 243.3 2173.1 C242.3 2177.5 242.4 2187.3 247.0 2189.4 C251.7 2191.5 265.3 2187.7 270.9 2185.7 C276.6 2183.6 279.5 2180.4 281.0 2177.4 C282.5 2174.3 281.4 2169.5 279.7 2167.3 C278.1 2165.1 274.4 2164.8 270.9 2164.3 C267.5 2163.8 261.2 2166.4 258.9 2164.3 C256.6 2162.2 258.1 2151.9 257.1 2151.7Z" fill="#f5bbb9" />
<path d="M1570.3 2184.3 C1570.7 2178.2 1580.4 2176.1 1583.4 2180.5 C1586.5 2184.8 1586.6 2200.9 1588.4 2210.4 C1590.3 2219.9 1592.9 2231.1 1594.5 2237.5 C1596.2 2244.0 1598.6 2246.4 1598.4 2248.9 C1598.2 2251.3 1594.9 2253.0 1593.4 2252.3 C1591.9 2251.5 1591.4 2250.2 1589.3 2244.3 C1587.2 2238.5 1584.1 2227.2 1580.9 2217.2 C1577.8 2207.2 1569.9 2190.5 1570.3 2184.3Z" fill="#f7b5a0" />
<path d="M1489.2 1987.5 C1489.8 1982.2 1490.4 1981.5 1492.6 1977.6 C1494.8 1973.8 1495.2 1973.3 1498.7 1970.8 C1502.2 1968.4 1503.0 1967.9 1507.7 1967.1 C1512.5 1966.3 1514.1 1966.7 1519.1 1967.5 C1524.0 1968.2 1524.8 1968.2 1528.9 1970.1 C1532.9 1971.9 1533.2 1972.2 1536.4 1975.4 C1539.6 1978.5 1540.3 1979.6 1542.5 1983.7 C1544.6 1987.7 1544.5 1987.1 1545.5 1992.7 C1546.4 1998.4 1546.3 1999.9 1546.6 2007.8 C1547.0 2015.8 1545.5 2019.7 1547.0 2026.7 C1548.5 2033.7 1549.0 2032.7 1553.0 2038.0 C1557.1 2043.3 1559.9 2045.1 1564.3 2049.3 C1568.8 2053.6 1570.4 2053.5 1572.0 2056.1 C1573.7 2058.8 1573.3 2057.5 1571.5 2060.7 C1569.7 2063.8 1568.7 2065.3 1564.3 2069.7 C1560.0 2074.1 1558.1 2075.8 1553.0 2079.5 C1547.9 2083.3 1545.1 2085.9 1542.5 2085.7 C1539.8 2085.5 1542.8 2081.8 1541.7 2078.8 C1540.6 2075.7 1541.6 2075.6 1537.9 2072.7 C1534.2 2069.9 1529.0 2071.3 1525.8 2066.7 C1522.7 2062.1 1524.9 2061.6 1524.3 2053.1 C1523.8 2044.7 1525.7 2037.5 1523.6 2030.5 C1521.5 2023.4 1520.7 2028.2 1515.3 2022.9 C1509.8 2017.6 1506.0 2013.1 1500.2 2007.8 C1494.4 2002.5 1492.9 2005.0 1490.4 2000.3 C1487.8 1995.5 1488.7 1992.7 1489.2 1987.5Z" fill="#1e1452" />
<path d="M1502.5 2033.5 L1522.8 2026.7 L1524.5 2065.9 L1518.3 2069.7 L1506.2 2069.7 L1500.2 2059.9Z" fill="#f7b5a0" />
<path d="M1491.5 1997.3 C1493.4 1990.4 1501.3 1981.0 1501.3 1981.0 C1501.3 1981.0 1504.9 1987.7 1507.7 1991.2 C1510.5 1994.8 1512.3 1995.9 1515.3 1998.8 C1518.3 2001.6 1520.0 2003.1 1522.8 2005.6 C1525.7 2008.1 1529.6 2011.2 1529.6 2011.2 C1529.6 2011.2 1531.3 2008.4 1532.6 2007.8 C1534.0 2007.2 1535.5 2006.7 1536.4 2008.2 C1537.4 2009.7 1537.8 2012.7 1537.3 2015.4 C1536.9 2018.1 1535.7 2020.4 1534.2 2021.8 C1532.6 2023.2 1531.9 2021.0 1529.6 2022.2 C1527.4 2023.4 1525.7 2025.8 1522.8 2027.8 C1520.0 2029.8 1518.5 2030.7 1515.3 2032.1 C1512.1 2033.6 1510.0 2034.9 1507.0 2035.2 C1504.0 2035.4 1502.6 2035.3 1500.2 2033.5 C1497.8 2031.6 1496.6 2029.6 1494.9 2025.9 C1493.2 2022.3 1492.6 2021.1 1491.9 2015.4 C1491.2 2009.6 1489.6 2004.1 1491.5 1997.3Z" fill="#f7b5a0" />
<path d="M1492.5 2022.9 C1492.1 2024.8 1492.2 2034.5 1492.6 2038.0 C1493.0 2041.6 1493.4 2042.9 1494.9 2044.2 C1496.4 2045.5 1500.3 2047.0 1501.7 2045.7 C1503.1 2044.4 1503.6 2038.7 1503.2 2036.5 C1502.8 2034.3 1500.8 2034.4 1499.4 2032.7 C1498.1 2031.1 1496.1 2028.3 1494.9 2026.7 C1493.7 2025.1 1492.9 2021.0 1492.5 2022.9Z" fill="#1e1452" />
<path d="M1499.4 2059.8 C1494.7 2058.9 1492.6 2057.5 1487.0 2061.4 C1481.4 2065.3 1467.7 2076.7 1462.1 2085.8 C1456.5 2094.9 1452.0 2115.6 1449.6 2122.1 C1447.2 2128.6 1443.7 2126.9 1446.2 2129.3 C1448.8 2131.8 1462.9 2134.7 1466.6 2138.4 C1470.3 2142.0 1470.1 2146.4 1471.1 2153.8 C1472.1 2161.2 1473.7 2178.9 1473.4 2187.7 C1473.1 2196.6 1463.1 2208.0 1468.9 2212.6 C1474.6 2217.3 1499.1 2219.0 1511.9 2219.0 C1524.6 2219.0 1546.3 2217.7 1553.8 2212.6 C1561.2 2207.6 1559.3 2189.5 1561.7 2185.5 C1564.1 2181.5 1566.4 2186.6 1569.6 2185.9 C1572.9 2185.2 1581.6 2184.1 1583.4 2180.9 C1585.3 2177.8 1583.3 2172.6 1582.1 2165.1 C1580.9 2157.6 1577.8 2143.0 1575.3 2131.1 C1572.7 2119.2 1569.8 2092.8 1565.1 2085.8 C1560.3 2078.9 1549.2 2089.1 1543.6 2084.7 C1538.0 2080.3 1531.5 2059.0 1527.7 2056.4 C1524.0 2053.9 1522.9 2067.2 1518.7 2067.7 C1514.4 2068.2 1504.2 2060.8 1499.4 2059.8Z" fill="#9d9edb" />
<path d="M1523.6 2026.7 C1523.6 2026.7 1547.0 2026.7 1547.0 2026.7 C1547.0 2026.7 1549.5 2033.5 1553.0 2038.0 C1556.5 2042.5 1560.5 2045.7 1564.3 2049.3 C1568.1 2053.0 1570.6 2053.9 1572.0 2056.1 C1573.5 2058.4 1573.0 2057.9 1571.5 2060.7 C1570.0 2063.4 1568.0 2065.9 1564.3 2069.7 C1560.6 2073.5 1557.4 2076.3 1553.0 2079.5 C1548.6 2082.7 1542.5 2085.7 1542.5 2085.7 C1542.5 2085.7 1542.6 2081.4 1541.7 2078.8 C1540.8 2076.2 1541.1 2075.2 1537.9 2072.7 C1534.8 2070.3 1528.6 2070.6 1525.8 2066.7 C1523.1 2062.8 1524.8 2061.1 1524.3 2053.1 C1523.9 2045.1 1523.6 2026.7 1523.6 2026.7Z" fill="#1e1452" />
<path d="M1448.5 2126.6 C1451.9 2125.5 1465.8 2132.9 1466.6 2138.4 C1467.4 2143.8 1457.2 2155.1 1453.5 2159.4 C1449.7 2163.8 1446.9 2165.4 1444.0 2164.6 C1441.1 2163.9 1438.1 2160.5 1436.0 2154.9 C1434.0 2149.3 1432.8 2136.9 1431.5 2131.1 C1430.3 2125.4 1427.6 2123.0 1428.6 2120.3 C1429.5 2117.5 1434.9 2114.5 1437.2 2114.8 C1439.4 2115.1 1440.6 2117.1 1442.1 2122.1 C1443.7 2127.1 1445.2 2144.0 1446.2 2144.7 C1447.3 2145.5 1445.1 2127.7 1448.5 2126.6Z" fill="#f7b5a0" />
<path d="M1313.8 1999.8 L1400.9 2049.6 L1400.9 2085.8 L1310.4 2118.7Z" fill="#5b5fa8" />
<path d="M1313.8 1999.8 C1316.4 1993.0 1319.2 2012.9 1321.7 2024.7 C1324.2 2036.5 1326.0 2044.6 1326.2 2058.7 C1326.5 2072.7 1326.0 2082.9 1322.8 2094.9 C1319.7 2106.9 1313.2 2125.9 1310.4 2118.7 C1307.5 2111.4 1307.9 2082.5 1308.6 2058.7 C1309.2 2034.9 1311.1 2006.6 1313.8 1999.8Z" fill="#0f3f70" />
<ellipse cx="1325.8" cy="2060.9" rx="2" ry="10" fill="#e5c93a"/>
<path d="M1400.8 2048.9 L1443 2056.4 L1443 2088.5 L1400.8 2086.6Z" fill="#104c70"/>
<path d="M1442.5 2056.3 L1449.5 2057 Q1454.6 2057.6 1454.6 2063 L1454.6 2083 Q1454.6 2088.5 1449 2088.5 L1442.5 2088.5Z" fill="#4a55a5"/>
<path d="M1426.5 2069.9 L1438.5 2069.9 M1424.7 2075 L1434.7 2075 M1423.4 2080 L1433.5 2080" stroke="#9fc0b4" stroke-width="1.4" fill="none"/>
<path d="M1419.0 2088.0 L1436.6 2088.0 L1432.8 2105.5 L1427.8 2126.9 L1417.7 2128.1 L1406.4 2123.1 L1412.7 2116.8 L1415.2 2099.2Z" fill="#5b5fa8" />
<path d="M1407.7 2102.1 C1409.2 2099.2 1412.3 2096.4 1414.1 2097.2 C1415.9 2098.0 1417.2 2102.1 1416.8 2106.2 C1416.4 2110.3 1414.3 2116.4 1412.3 2117.5 C1410.2 2118.7 1407.5 2115.0 1406.6 2111.9 C1405.7 2108.8 1406.2 2105.1 1407.7 2102.1Z" fill="#f7b5a0" />
<path d="M1428.6 2120.3 C1429.2 2116.7 1432.4 2114.0 1434.9 2113.5 C1437.4 2112.9 1440.3 2114.5 1441.2 2117.5 C1442.1 2120.6 1441.4 2126.1 1439.4 2128.9 C1437.5 2131.6 1433.7 2132.9 1431.5 2131.1 C1429.3 2129.4 1427.9 2123.8 1428.6 2120.3Z" fill="#f7b5a0" />
<path d="M1468.2 2210.8 L1508.5 2217.8 L1554.9 2212.4 L1564.2 2238.7 L1567.3 2262.0 L1565.8 2293.0 L1564.2 2324.0 L1570.4 2370.4 L1578.2 2432.4 L1584.4 2478.9 L1587.5 2508.3 L1573.5 2510.7 L1554.9 2447.9 L1539.4 2393.7 L1524.0 2347.2 L1508.5 2320.9 L1493.0 2347.2 L1477.5 2378.2 L1469.7 2401.4 L1463.5 2423.1 L1451.1 2463.4 L1437.2 2523.0 L1420.9 2521.5 L1426.3 2478.9 L1432.5 2416.9 L1438.7 2370.4 L1444.9 2324.0 L1451.1 2277.5 L1458.9 2238.7Z" fill="#0a2c50" />
<path d="M1423.2 2521.5 L1434.9 2523.0 L1433.3 2529.2 L1426.3 2528.5Z" fill="#f7b5a0" />
<path d="M1575.9 2510.3 L1585.9 2508.6 L1588.2 2519.2 L1581.3 2522.3Z" fill="#f7b5a0" />
<path d="M1393.0 2546.3 C1395.1 2544.9 1405.3 2541.7 1409.3 2539.3 C1413.3 2536.9 1419.9 2529.8 1423.2 2528.5 C1426.5 2527.1 1432.7 2528.0 1434.1 2529.2 C1435.4 2530.5 1433.9 2535.9 1433.3 2537.8 C1432.7 2539.6 1430.5 2540.7 1429.4 2543.2 C1428.4 2545.7 1426.4 2554.6 1425.6 2556.4 C1424.7 2558.1 1423.6 2558.1 1423.2 2556.4 C1422.9 2554.6 1425.1 2544.1 1423.2 2543.2 C1421.4 2542.3 1413.2 2548.6 1409.3 2549.4 C1405.4 2550.2 1396.0 2549.8 1393.8 2549.4 C1391.6 2549.0 1391.0 2547.6 1393.0 2546.3Z" fill="#6464b0" />
<path d="M1554.9 2550.5 C1556.8 2548.9 1566.9 2544.2 1570.4 2540.9 C1573.9 2537.5 1578.6 2526.7 1581.3 2525.4 C1584.0 2524.0 1589.7 2526.9 1590.9 2530.8 C1592.1 2534.7 1590.8 2551.6 1590.3 2554.8 C1589.8 2558.0 1587.9 2556.6 1587.2 2554.8 C1586.4 2553.1 1586.9 2542.2 1584.7 2541.6 C1582.5 2541.1 1574.2 2549.0 1570.4 2550.5 C1566.7 2551.9 1558.6 2552.5 1556.5 2552.5 C1554.4 2552.5 1553.1 2552.0 1554.9 2550.5Z" fill="#6464b0" />
<g opacity="0.44">
<path d="M1447.5 2032.6 C1455.1 2031.4 1456.4 2017.4 1466.1 2011.0 C1475.8 2004.6 1477.2 2005.2 1489.1 2005.2 C1500.9 2005.2 1503.8 2005.9 1516.7 2011.0 C1529.6 2016.1 1531.5 2017.8 1544.4 2027.0 C1557.3 2036.3 1559.8 2039.3 1572.1 2050.6 C1584.3 2061.9 1586.7 2062.2 1597.0 2075.5 C1607.3 2088.7 1609.3 2090.8 1616.4 2107.3 C1623.5 2123.8 1624.2 2130.5 1627.4 2146.0 C1630.7 2161.5 1630.2 2160.8 1630.2 2173.7 C1630.2 2186.6 1629.7 2189.8 1627.4 2201.4 C1625.2 2213.0 1623.7 2213.8 1620.5 2223.5 C1617.3 2233.2 1616.2 2242.9 1613.6 2242.9 C1611.0 2242.9 1613.3 2216.4 1609.4 2223.5 C1605.6 2230.6 1602.2 2263.0 1597.0 2273.3 C1591.8 2283.7 1592.1 2256.5 1587.3 2267.8 C1582.5 2279.1 1580.1 2313.4 1576.2 2321.8 C1572.4 2330.2 1575.5 2297.6 1570.7 2303.8 C1565.9 2309.9 1564.2 2330.6 1555.5 2348.1 C1546.8 2365.5 1543.7 2368.8 1533.3 2378.5 C1523.0 2388.2 1515.7 2390.2 1511.2 2389.6 C1506.7 2388.9 1519.1 2370.6 1514.0 2375.7 C1508.8 2380.9 1499.1 2397.2 1489.1 2411.7 C1479.1 2426.2 1477.5 2436.1 1471.1 2438.0 C1464.6 2439.9 1470.1 2430.0 1461.4 2420.0 C1452.7 2410.0 1446.0 2402.2 1433.7 2395.1 C1421.4 2388.0 1415.3 2394.1 1408.8 2389.6 C1402.3 2385.0 1409.3 2380.9 1406.0 2375.7 C1402.8 2370.6 1403.4 2376.5 1395.0 2367.4 C1386.6 2358.4 1380.4 2351.2 1370.1 2337.0 C1359.7 2322.8 1358.4 2313.0 1350.7 2306.5 C1342.9 2300.1 1340.7 2314.5 1336.9 2309.3 C1333.0 2304.1 1340.5 2296.7 1334.1 2284.4 C1327.6 2272.1 1319.5 2269.6 1309.2 2256.7 C1298.9 2243.8 1296.9 2242.0 1289.8 2229.1 C1282.7 2216.1 1282.0 2214.3 1278.7 2201.4 C1275.5 2188.5 1275.7 2184.0 1276.0 2173.7 C1276.3 2163.4 1278.8 2166.8 1280.1 2157.1 C1281.4 2147.4 1278.0 2146.4 1281.5 2132.2 C1285.1 2118.0 1287.6 2111.1 1295.3 2096.2 C1303.1 2081.4 1305.0 2080.8 1314.7 2068.6 C1324.4 2056.3 1325.2 2054.0 1336.9 2043.6 C1348.5 2033.3 1351.6 2031.4 1364.5 2024.3 C1377.4 2017.2 1379.9 2016.8 1392.2 2013.2 C1404.5 2009.7 1407.4 2008.4 1417.1 2009.1 C1426.8 2009.7 1426.6 2010.5 1433.7 2016.0 C1440.8 2021.5 1440.0 2033.7 1447.5 2032.6Z" fill="#dab027" stroke="#17550a" stroke-width="3.2" stroke-linejoin="round"/>
<path d="M1341.2 2164.6 L1343.0 2155.8 L1345.4 2147.3 L1348.2 2138.9 L1351.6 2130.8 L1355.4 2123.0 L1359.6 2115.5 L1364.3 2108.4 L1369.3 2101.6 L1374.8 2095.3 L1380.6 2089.4 L1386.7 2084.0 L1393.2 2079.1 L1399.9 2074.7 L1406.8 2070.9 L1414.0 2067.6 L1421.3 2064.9 L1428.8 2062.7 L1436.4 2061.2 L1444.0 2060.3 L1451.7 2060.0 L1459.4 2060.3 L1467.0 2061.2 L1474.6 2062.7 L1482.1 2064.9 L1489.4 2067.6 L1496.6 2070.9 L1503.5 2074.7 L1510.2 2079.1 L1516.7 2084.0 L1522.8 2089.4 L1528.6 2095.3 L1534.1 2101.6 L1539.1 2108.4 L1543.8 2115.5 L1548.0 2123.0 L1551.8 2130.8 L1555.2 2138.9 L1558.0 2147.3 L1560.4 2155.8 L1562.2 2164.6" fill="none" stroke="#17550a" stroke-width="19.5" stroke-linecap="butt"/>
<path d="M1360.4 2118.2 L1346.3 2123.3 L1334.2 2140.4 L1341.3 2146.4 L1329.8 2166.5 L1338.6 2174.6 L1329.8 2193.7 L1338.6 2200.7 L1336.2 2220.9 L1347.9 2229.3 L1345.3 2242.0 L1366.4 2257.1 L1370.8 2271.2 L1376.9 2281.7 L1374.9 2261.1 L1388.5 2257.1 L1395.0 2251.1 L1384.5 2241.0 L1368.4 2224.9 L1358.8 2200.7 L1354.3 2170.6 L1358.0 2140.4 L1369.4 2120.2Z" fill="#17550a" />
<path d="M1544.5 2126.3 L1561.6 2135.3 L1554.0 2138.4 L1567.7 2164.5 L1559.6 2164.5 L1569.7 2192.7 L1561.6 2192.7 L1568.7 2218.9 L1559.6 2216.8 L1554.0 2230.9 L1546.5 2220.9 L1550.6 2200.7 L1547.5 2170.6 L1539.5 2146.4Z" fill="#17550a" />
<path d="M1490.2 2202.8 L1498.2 2220.9 L1513.3 2244.0 L1531.4 2232.9 L1552.6 2220.9 L1554.0 2232.9 L1546.5 2267.2 L1537.5 2253.1 L1528.4 2278.2 L1521.4 2271.2 L1511.3 2283.3 L1507.3 2297.3 L1503.3 2281.2 L1509.3 2261.1 L1501.2 2239.0 L1492.2 2218.9Z" fill="#17550a" />
<path d="M1372.4 2147.4 C1373.7 2145.0 1378.9 2141.1 1384.5 2140.4 C1390.2 2139.7 1395.0 2140.9 1400.6 2144.0 C1406.3 2147.1 1409.4 2150.4 1412.7 2156.1 C1416.0 2161.8 1417.9 2168.8 1417.1 2172.6 C1416.3 2176.4 1413.2 2174.6 1408.7 2175.0 C1404.2 2175.4 1400.2 2176.9 1394.6 2174.6 C1389.0 2172.3 1384.8 2167.1 1380.5 2163.5 C1376.2 2159.9 1373.3 2158.7 1372.9 2156.5 C1372.4 2154.3 1378.6 2154.3 1378.5 2152.4 C1378.4 2150.6 1371.2 2149.8 1372.4 2147.4Z" fill="#17550a" />
<path d="M1382.1 2154.9 C1384.1 2153.9 1389.6 2155.3 1394.6 2158.1 C1399.6 2160.8 1407.1 2166.2 1407.1 2168.5 C1407.1 2170.9 1399.1 2170.9 1394.6 2169.8 C1390.1 2168.6 1387.0 2165.9 1384.5 2162.9 C1382.0 2159.9 1380.1 2155.8 1382.1 2154.9Z" fill="#dab027" />
<path d="M1529.8 2147.4 C1528.5 2145.0 1523.1 2141.1 1517.3 2140.4 C1511.6 2139.7 1506.5 2140.9 1501.2 2144.0 C1496.0 2147.1 1494.1 2150.4 1491.2 2156.1 C1488.3 2161.8 1486.3 2168.8 1486.8 2172.6 C1487.2 2176.4 1489.1 2174.6 1493.6 2175.0 C1498.1 2175.4 1503.4 2176.9 1509.3 2174.6 C1515.2 2172.3 1518.9 2167.1 1523.0 2163.5 C1527.1 2159.9 1529.7 2158.7 1529.8 2156.5 C1530.0 2154.3 1523.8 2154.3 1523.8 2152.4 C1523.8 2150.6 1531.1 2149.8 1529.8 2147.4Z" fill="#17550a" />
<path d="M1519.8 2154.9 C1517.8 2153.9 1512.1 2155.3 1507.3 2158.1 C1502.5 2160.8 1495.6 2166.2 1495.6 2168.5 C1495.6 2170.9 1502.9 2170.9 1507.3 2169.8 C1511.6 2168.6 1514.9 2165.9 1517.3 2162.9 C1519.8 2159.9 1521.8 2155.8 1519.8 2154.9Z" fill="#dab027" />
<path d="M1410.7 2200.7 C1409.7 2207.5 1411.0 2208.8 1407.7 2220.9 C1404.3 2232.9 1406.0 2227.7 1400.6 2237.0 C1395.3 2246.2 1394.6 2244.8 1391.6 2248.6" fill="none" stroke="#17550a" stroke-width="3" stroke-linecap="round"/>
<path d="M1424.4 2237.4 C1429.2 2240.1 1428.7 2242.1 1438.9 2245.4 C1449.1 2248.8 1444.2 2248.1 1455.0 2247.4 C1465.7 2246.8 1462.2 2247.2 1471.1 2243.4 C1479.9 2239.6 1478.0 2238.4 1481.5 2236.0" fill="none" stroke="#17550a" stroke-width="4.5" stroke-linecap="round"/>
<path d="M1438.9 2245.4 C1439.8 2243.7 1449.6 2248.4 1455.0 2248.0 C1460.3 2247.7 1470.1 2241.2 1471.1 2243.4 C1472.1 2245.6 1463.0 2254.8 1461.0 2261.1 C1459.0 2267.4 1458.3 2276.6 1459.0 2281.2 C1459.7 2285.9 1466.0 2286.8 1465.0 2289.3 C1464.0 2291.8 1457.0 2296.2 1452.9 2296.3 C1448.9 2296.5 1441.4 2294.2 1440.9 2290.3 C1440.4 2286.4 1448.5 2278.6 1449.9 2273.2 C1451.3 2267.8 1451.2 2262.7 1449.3 2258.1 C1447.5 2253.5 1437.9 2247.1 1438.9 2245.4Z" fill="#17550a" />
<path d="M1394.6 2251.1 C1394.5 2257.1 1392.2 2258.4 1394.2 2269.2 C1396.2 2279.9 1393.8 2275.2 1400.6 2283.3 C1407.5 2291.3 1401.3 2291.0 1414.7 2293.3 C1428.1 2295.7 1432.2 2291.3 1440.9 2290.3" fill="none" stroke="#17550a" stroke-width="6" stroke-linecap="round"/>
<path d="M1465.0 2289.3 C1470.4 2291.6 1469.0 2295.7 1481.1 2296.3 C1493.2 2297.0 1490.5 2299.0 1501.2 2291.3 C1512.0 2283.6 1510.0 2285.3 1513.3 2273.2 C1516.7 2261.1 1512.0 2261.1 1511.3 2255.1" fill="none" stroke="#17550a" stroke-width="7" stroke-linecap="round"/>
<path d="M1400.6 2290.3 L1420.7 2297.8 L1452.9 2296.3 L1481.1 2296.3 L1499.2 2295.3 L1496.2 2311.4 L1493.2 2323.5 L1482.1 2329.5 L1477.1 2341.6 L1471.5 2334.0 L1461.0 2344.0 L1453.4 2339.6 L1445.3 2358.7 L1437.3 2332.6 L1429.2 2342.0 L1421.2 2332.0 L1413.1 2346.0 L1405.1 2321.5Z" fill="#17550a" />
<path d="M1416.7 2303.0 C1418.7 2300.2 1430.4 2300.0 1440.9 2299.4 C1451.3 2298.7 1459.8 2299.4 1469.0 2299.8 C1478.3 2300.2 1485.6 2299.0 1487.2 2301.4 C1488.8 2303.7 1483.9 2308.0 1477.1 2311.4 C1470.3 2314.9 1462.2 2318.1 1452.9 2318.5 C1443.7 2318.9 1438.1 2316.5 1430.8 2313.4 C1423.6 2310.3 1414.7 2305.8 1416.7 2303.0Z" fill="#dab027" />
<path d="M1404.6 2349.7 C1403.8 2357.1 1399.6 2357.1 1402.2 2371.8 C1404.9 2386.6 1409.2 2386.6 1412.7 2393.9" fill="none" stroke="#17550a" stroke-width="3" stroke-linecap="round"/>
<path d="M1528.4 2331.6 C1527.5 2336.9 1529.5 2337.6 1525.8 2347.7 C1522.1 2357.7 1520.2 2357.1 1517.3 2361.7" fill="none" stroke="#17550a" stroke-width="3.5" stroke-linecap="round"/>
<path d="M1461.0 2367.8 C1461.0 2376.5 1458.9 2375.8 1461.0 2393.9 C1463.1 2412.1 1465.3 2412.7 1467.4 2422.1" fill="none" stroke="#17550a" stroke-width="4" stroke-linecap="round"/>
<path d="M1339.2 2267.2 C1338.6 2275.2 1334.9 2277.9 1337.2 2291.3 C1339.6 2304.7 1343.3 2302.0 1346.3 2307.4" fill="none" stroke="#17550a" stroke-width="3" stroke-linecap="round"/>
<text x="1256" y="2483.4" font-family="Liberation Sans, sans-serif" font-weight="700" font-size="59" fill="#17550a" stroke="#17550a" stroke-width="4.6" stroke-linejoin="miter" textLength="325" lengthAdjust="spacingAndGlyphs">LIONHEAR</text>
<text x="1587.4" y="2483.4" font-family="Liberation Sans, sans-serif" font-weight="700" font-size="59" fill="#dab027" stroke="#dab027" stroke-width="4.6" stroke-linejoin="miter" textLength="68" lengthAdjust="spacingAndGlyphs">TV</text>
<text x="1255.8" y="2510.2" font-family="Liberation Sans, sans-serif" font-weight="400" font-size="22" fill="#17550a" textLength="400.5" lengthAdjust="spacingAndGlyphs">YOUR DAILY DOSE OF ENTERTAINMENT</text>
</g>
</svg>
<div class="t" style="left:125.8px;top:38.7px;font-size:70px;line-height:70px;font-weight:700;color:#6a63b4;letter-spacing:-1.97px;-webkit-text-stroke:1.20px #6a63b4;transform:scaleX(0.9542);transform-origin:0 0">Rakuten</div>
<div class="t" style="left:390.6px;top:38.7px;font-size:70px;line-height:70px;font-weight:700;color:#6a63b4;letter-spacing:-2.35px;-webkit-text-stroke:1.20px #6a63b4;transform:scaleX(0.9433);transform-origin:0 0">Viber</div>
<div class="t" style="left:455.0px;top:140.7px;font-size:90px;line-height:90px;font-weight:700;color:transparent;letter-spacing:-2.81px">PRIVACY</div>
<div class="t" style="left:859.5px;top:140.7px;font-size:90px;line-height:90px;font-weight:700;color:transparent;letter-spacing:-1.50px">IN</div>
<div class="t" style="left:971.5px;top:140.7px;font-size:90px;line-height:90px;font-weight:700;color:transparent;letter-spacing:-2.74px">THE</div>
<div class="t" style="left:1167.5px;top:140.7px;font-size:90px;line-height:90px;font-weight:700;color:transparent;letter-spacing:-0.03px">PH</div>
<div class="t" style="left:227.6px;top:231.6px;font-size:47px;line-height:47px;font-weight:400;color:#6a63b4;letter-spacing:1.30px;-webkit-text-stroke:0.80px #f6efdd">How Filipinos feel about privacy with their messaging apps</div>
<div class="t" style="left:174.7px;top:448.1px;font-size:45px;line-height:45px;font-weight:700;color:#fff;letter-spacing:1.94px;-webkit-text-stroke:1.40px #fff">How much</div>
<div class="t" style="left:78.2px;top:502.6px;font-size:45px;line-height:45px;font-weight:700;color:#fff;letter-spacing:1.69px;-webkit-text-stroke:1.40px #fff">do you care about</div>
<div class="t" style="left:98.7px;top:557.1px;font-size:45px;line-height:45px;font-weight:700;color:#fff;letter-spacing:1.76px;-webkit-text-stroke:1.40px #fff">digital privacy in</div>
<div class="t" style="left:90.7px;top:611.1px;font-size:45px;line-height:45px;font-weight:700;color:#fff;letter-spacing:1.07px;-webkit-text-stroke:1.40px #fff">messaging apps?</div>
<div class="t" style="left:715.2px;top:412.6px;font-size:45px;line-height:45px;font-weight:700;color:#553c9a;letter-spacing:3.28px;-webkit-text-stroke:1.40px #553c9a">What matters</div>
<div class="t" style="left:669.7px;top:467.1px;font-size:45px;line-height:45px;font-weight:700;color:#553c9a;letter-spacing:1.37px;-webkit-text-stroke:1.40px #553c9a">to you most when</div>
<div class="t" style="left:615.7px;top:521.6px;font-size:45px;line-height:45px;font-weight:700;color:#553c9a;letter-spacing:1.31px;-webkit-text-stroke:1.40px #553c9a">choosing a messaging</div>
<div class="t" style="left:681.7px;top:575.6px;font-size:45px;line-height:45px;font-weight:700;color:#553c9a;letter-spacing:1.64px;-webkit-text-stroke:1.40px #553c9a">app to host your</div>
<div class="t" style="left:660.7px;top:629.6px;font-size:45px;line-height:45px;font-weight:700;color:#553c9a;letter-spacing:2.03px;-webkit-text-stroke:1.40px #553c9a">family and friends</div>
<div class="t" style="left:700.7px;top:684.1px;font-size:45px;line-height:45px;font-weight:700;color:#553c9a;letter-spacing:1.11px;-webkit-text-stroke:1.40px #553c9a">conversations?</div>
<div class="t" style="left:1260.2px;top:412.6px;font-size:45px;line-height:45px;font-weight:700;color:#fff;letter-spacing:1.13px;-webkit-text-stroke:1.40px #fff">Would you switch</div>
<div class="t" style="left:1232.7px;top:467.1px;font-size:45px;line-height:45px;font-weight:700;color:#fff;letter-spacing:1.62px;-webkit-text-stroke:1.40px #fff">your messaging app</div>
<div class="t" style="left:1244.2px;top:521.6px;font-size:45px;line-height:45px;font-weight:700;color:#fff;letter-spacing:1.58px;-webkit-text-stroke:1.40px #fff">where you talk with</div>
<div class="t" style="left:1256.7px;top:575.6px;font-size:45px;line-height:45px;font-weight:700;color:#fff;letter-spacing:1.91px;-webkit-text-stroke:1.40px #fff">family and friends</div>
<div class="t" style="left:1295.2px;top:629.6px;font-size:45px;line-height:45px;font-weight:700;color:#fff;letter-spacing:1.66px;-webkit-text-stroke:1.40px #fff">due to privacy</div>
<div class="t" style="left:1342.7px;top:684.1px;font-size:45px;line-height:45px;font-weight:700;color:#fff;letter-spacing:0.19px;-webkit-text-stroke:1.40px #fff">concerns?</div>
<div class="t" style="left:113.5px;top:972.7px;font-size:164px;line-height:164px;font-weight:700;color:transparent;letter-spacing:3.54px">95%</div>
<div class="t" style="left:722.0px;top:972.7px;font-size:164px;line-height:164px;font-weight:700;color:transparent;letter-spacing:-3.96px">83%</div>
<div class="t" style="left:1312.0px;top:972.7px;font-size:164px;line-height:164px;font-weight:700;color:transparent;letter-spacing:2.79px">89%</div>
<div class="t" style="left:94.5px;top:1136.4px;font-size:32px;line-height:32px;font-weight:700;color:#24204f;letter-spacing:-0.12px">I consider digital privacy</div>
<div class="t" style="left:146.0px;top:1167.9px;font-size:32px;line-height:32px;font-weight:700;color:#24204f;letter-spacing:0.24px">as very important</div>
<div class="t" style="left:596.0px;top:1136.4px;font-size:32px;line-height:32px;font-weight:700;color:#24204f;letter-spacing:-0.53px">No one to be able to see my messages</div>
<div class="t" style="left:701.0px;top:1167.9px;font-size:32px;line-height:32px;font-weight:700;color:#24204f;letter-spacing:-0.36px">and listen to my calls -&gt;</div>
<div class="t" style="left:650.0px;top:1200.4px;font-size:32px;line-height:32px;font-weight:700;color:#24204f;letter-spacing:-0.09px">To have end-to-end encryption</div>
<div class="t" style="left:669.0px;top:1232.4px;font-size:32px;line-height:32px;font-weight:700;color:#24204f;letter-spacing:-0.22px">in chats and calls by default</div>
<div class="t" style="left:1387.5px;top:1136.4px;font-size:32px;line-height:32px;font-weight:700;color:#24204f;letter-spacing:-0.89px">Yes I would.</div>
<div class="t" style="left:1280.0px;top:1167.9px;font-size:32px;line-height:32px;font-weight:700;color:#24204f;letter-spacing:-0.35px">Privacy is essential for me</div>
<div class="t" style="left:87.7px;top:1493.6px;font-size:33px;line-height:33px;font-weight:400;color:#24204f;letter-spacing:-0.41px;-webkit-text-stroke:0.70px #f6efdd">I am somewhat concerned,</div>
<div class="t" style="left:62.6px;top:1534.6px;font-size:33px;line-height:33px;font-weight:400;color:#24204f;letter-spacing:-0.09px;-webkit-text-stroke:0.70px #f6efdd">but not fully aware of the topic</div>
<div class="t" style="left:101.2px;top:1801.1px;font-size:33px;line-height:33px;font-weight:400;color:#24204f;letter-spacing:-0.12px;-webkit-text-stroke:0.70px #faf6ea">I don't find digital privacy</div>
<div class="t" style="left:185.7px;top:1841.6px;font-size:33px;line-height:33px;font-weight:400;color:#24204f;letter-spacing:0.30px;-webkit-text-stroke:0.70px #faf6ea">so important</div>
<div class="t" style="left:628.6px;top:1475.1px;font-size:33px;line-height:33px;font-weight:400;color:#24204f;letter-spacing:-0.59px;-webkit-text-stroke:0.70px #f6efdd">For my personal data (gender, age,</div>
<div class="t" style="left:670.6px;top:1516.6px;font-size:33px;line-height:33px;font-weight:400;color:#24204f;letter-spacing:-0.33px;-webkit-text-stroke:0.70px #f6efdd">exact location, etc.) to not be</div>
<div class="t" style="left:645.6px;top:1557.6px;font-size:33px;line-height:33px;font-weight:400;color:#24204f;letter-spacing:-0.56px;-webkit-text-stroke:0.70px #f6efdd">collected beyond what is needed</div>
<div class="t" style="left:727.6px;top:1598.1px;font-size:33px;line-height:33px;font-weight:400;color:#24204f;letter-spacing:0.07px;-webkit-text-stroke:0.70px #f6efdd">for operating the app</div>
<div class="t" style="left:690.1px;top:1823.1px;font-size:33px;line-height:33px;font-weight:400;color:#24204f;letter-spacing:-0.82px;-webkit-text-stroke:0.70px #faf6ea">Custom Solutions, so I can</div>
<div class="t" style="left:690.1px;top:1863.1px;font-size:33px;line-height:33px;font-weight:400;color:#24204f;letter-spacing:-0.18px;-webkit-text-stroke:0.70px #faf6ea">decide what data to share</div>
<div class="t" style="left:651.1px;top:1904.1px;font-size:33px;line-height:33px;font-weight:400;color:#24204f;letter-spacing:-0.32px;-webkit-text-stroke:0.70px #faf6ea">with others in and out of the app</div>
<div class="t" style="left:755.6px;top:2158.6px;font-size:33px;line-height:33px;font-weight:400;color:#24204f;letter-spacing:-0.13px;-webkit-text-stroke:0.70px #f6efdd">Good reputation:</div>
<div class="t" style="left:685.1px;top:2199.6px;font-size:33px;line-height:33px;font-weight:400;color:#24204f;letter-spacing:-0.17px;-webkit-text-stroke:0.70px #f6efdd">No report of data breaches</div>
<div class="t" style="left:708.6px;top:2453.1px;font-size:33px;line-height:33px;font-weight:400;color:#24204f;letter-spacing:-0.29px;-webkit-text-stroke:0.70px #faf6ea">Not storing my personal</div>
<div class="t" style="left:770.6px;top:2493.6px;font-size:33px;line-height:33px;font-weight:400;color:#24204f;letter-spacing:-0.47px;-webkit-text-stroke:0.70px #faf6ea">chats and calls</div>
<div class="t" style="left:1225.2px;top:1493.6px;font-size:33px;line-height:33px;font-weight:400;color:#24204f;letter-spacing:-0.41px;-webkit-text-stroke:0.70px #f6efdd">Partly - I would move my important</div>
<div class="t" style="left:1282.2px;top:1534.6px;font-size:33px;line-height:33px;font-weight:400;color:#24204f;letter-spacing:-0.43px;-webkit-text-stroke:0.70px #f6efdd">chats to a more secure app</div>
<div class="t" style="left:1303.7px;top:1801.1px;font-size:33px;line-height:33px;font-weight:400;color:#24204f;letter-spacing:-0.09px;-webkit-text-stroke:0.70px #faf6ea">Not if my contacts don't</div>
<div class="t" style="left:1310.2px;top:1841.6px;font-size:33px;line-height:33px;font-weight:400;color:#24204f;letter-spacing:-0.40px;-webkit-text-stroke:0.70px #faf6ea">change messaging app</div>
<div class="t" style="left:175.0px;top:1332.6px;font-size:160px;line-height:160px;font-weight:400;color:transparent;letter-spacing:-20.98px">3%</div>
<div class="t" style="left:176.0px;top:1638.6px;font-size:160px;line-height:160px;font-weight:400;color:transparent;letter-spacing:-20.98px">2%</div>
<div class="t" style="left:769.0px;top:1313.6px;font-size:160px;line-height:160px;font-weight:400;color:transparent;letter-spacing:-5.98px">8%</div>
<div class="t" style="left:773.0px;top:1660.6px;font-size:160px;line-height:160px;font-weight:400;color:transparent;letter-spacing:-14.98px">4%</div>
<div class="t" style="left:775.0px;top:1997.6px;font-size:160px;line-height:160px;font-weight:400;color:transparent;letter-spacing:-20.98px">3%</div>
<div class="t" style="left:774.0px;top:2290.6px;font-size:160px;line-height:160px;font-weight:400;color:transparent;letter-spacing:-18.98px">2%</div>
<div class="t" style="left:1370.0px;top:1332.6px;font-size:160px;line-height:160px;font-weight:400;color:transparent;letter-spacing:-15.98px">8%</div>
<div class="t" style="left:1370.5px;top:1638.6px;font-size:160px;line-height:160px;font-weight:400;color:transparent;letter-spacing:-19.48px">3%</div>
</body></html>
